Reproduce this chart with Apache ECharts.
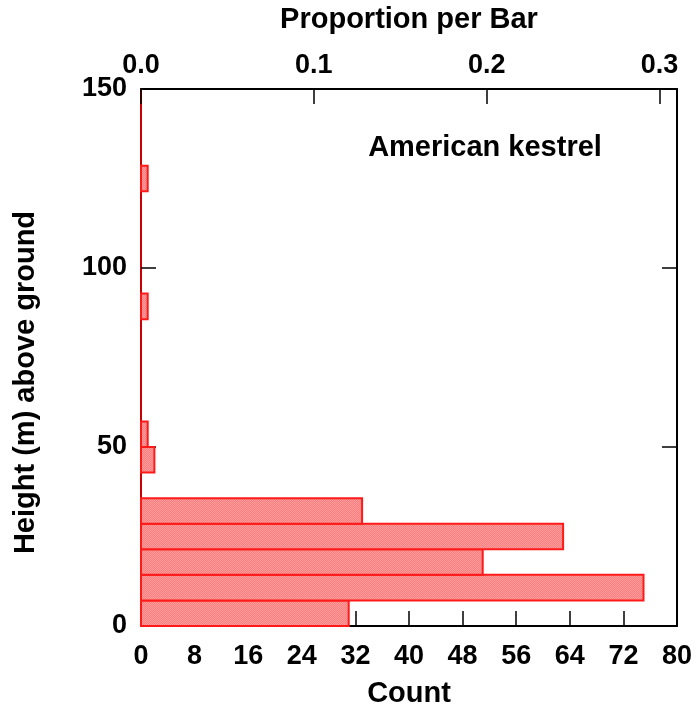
<!DOCTYPE html>
<html>
<head>
<meta charset="utf-8">
<script src="https://cdn.jsdelivr.net/npm/echarts@6/dist/echarts.min.js"></script>
<style>
html,body{margin:0;padding:0;background:#fff;}
#chart{width:696px;height:710px;}
</style>
</head>
<body>
<div id="chart"></div>
<script>
// Height bins (m above ground), edges of each bar
const binEdges = [0, 7.14, 14.29, 21.43, 28.57, 35.71, 42.86, 50, 57.14, 64.29, 71.43,
  78.57, 85.71, 92.86, 100, 107.14, 114.29, 121.43, 128.57, 135.71, 142.86, 150];
// Count of observations in each bin
const counts = [31, 75, 51, 63, 33, 0, 2, 1, 0, 0, 0, 0, 1, 0, 0, 0, 0, 1, 0, 0, 0];
// Tick labels
const countTicks = [0, 8, 16, 24, 32, 40, 48, 56, 64, 72, 80];
const propTicks = ['0.0', '0.1', '0.2', '0.3'];
const heightTicks = [0, 50, 100, 150];

const total = counts.reduce((a, b) => a + b, 0);
const countMax = countTicks[countTicks.length - 1];

const barData = counts.map((c, i) => [binEdges[i], binEdges[i + 1], c]).filter(d => d[2] > 0);

// fine diagonal hatch fill
const tile = document.createElement('canvas');
tile.width = 4; tile.height = 4;
(function () {
  const g = tile.getContext('2d');
  g.fillStyle = '#ffa0a0';
  g.fillRect(0, 0, 4, 4);
  g.fillStyle = '#ff7a7a';
  for (let i = 0; i < 4; i++) { g.fillRect(i, 3 - i, 1, 1); g.fillRect((i + 2) % 4, 3 - i, 1, 1); }
})();
const hatch = {image: tile, repeat: 'repeat'};

const FONT = "'Liberation Sans', Arial, Helvetica, sans-serif";
const chart = echarts.init(document.getElementById('chart'), null, {renderer: 'canvas'});

const tickLabelStyle = {fontFamily: FONT, fontWeight: 'bold', fontSize: 27, color: '#000'};

chart.setOption({
  animation: false,
  backgroundColor: '#fff',
  grid: {left: 141, right: 19, top: 89, bottom: 84, containLabel: false, outerBoundsMode: 'none'},
  xAxis: [
    {
      type: 'value', position: 'bottom', min: 0, max: countMax, interval: 8,
      name: 'Count', nameLocation: 'middle', nameGap: 53,
      nameTextStyle: {fontFamily: FONT, fontWeight: 'bold', fontSize: 29, color: '#000'},
      axisLine: {show: true, onZero: false, lineStyle: {color: '#000', width: 2}},
      axisTick: {show: true, inside: true, length: 15, lineStyle: {color: '#000', width: 1.5}},
      axisLabel: Object.assign({margin: 17, formatter: v => String(v)}, tickLabelStyle),
      splitLine: {show: false}
    },
    {
      type: 'value', position: 'top', min: 0, max: countMax / total, interval: 0.1,
      name: 'Proportion per Bar', nameLocation: 'middle', nameGap: 55,
      nameTextStyle: {fontFamily: FONT, fontWeight: 'bold', fontSize: 29, color: '#000'},
      axisLine: {show: true, onZero: false, lineStyle: {color: '#000', width: 2}},
      axisTick: {show: true, inside: true, length: 15, lineStyle: {color: '#000', width: 1.5}},
      axisLabel: Object.assign({margin: 10, formatter: v => propTicks[Math.round(v * 10)] || ''}, tickLabelStyle),
      splitLine: {show: false}
    }
  ],
  yAxis: [
    {
      type: 'value', position: 'left', min: 0, max: 150, interval: 50,
      name: 'Height (m) above ground', nameLocation: 'middle', nameGap: 101,
      nameTextStyle: {fontFamily: FONT, fontWeight: 'bold', fontSize: 29, color: '#000', padding: [0, 50, 0, 0]},
      axisLine: {show: true, onZero: false, lineStyle: {color: '#cc0000', width: 2}},
      axisTick: {show: true, inside: true, length: 15, lineStyle: {color: '#000', width: 1.5}},
      axisLabel: Object.assign({margin: 14, formatter: v => heightTicks.indexOf(v) >= 0 ? String(v) : ''}, tickLabelStyle),
      splitLine: {show: false}
    },
    {
      type: 'value', position: 'right', min: 0, max: 150, interval: 50,
      axisLine: {show: true, onZero: false, lineStyle: {color: '#000', width: 2}},
      axisTick: {show: true, inside: true, length: 15, lineStyle: {color: '#000', width: 1.5}},
      axisLabel: {show: false},
      splitLine: {show: false}
    }
  ],
  graphic: [
    {
      type: 'text', x: 485, y: 148, z: 10,
      style: {text: 'American kestrel', fontFamily: FONT, fontWeight: 'bold', fontSize: 29,
        fill: '#000', textAlign: 'center', textVerticalAlign: 'middle'}
    }
  ],
  series: [
    {
      type: 'custom',
      xAxisIndex: 0, yAxisIndex: 0,
      data: barData,
      encode: {x: 2, y: [0, 1]},
      renderItem: function (params, api) {
        const p0 = api.coord([0, api.value(0)]);
        const p1 = api.coord([api.value(2), api.value(1)]);
        return {
          type: 'rect',
          shape: {x: p0[0], y: p1[1], width: p1[0] - p0[0], height: p0[1] - p1[1]},
          style: {fill: hatch, stroke: '#ff1a1a', lineWidth: 2}
        };
      }
    }
  ]
});
</script>
</body>
</html>
